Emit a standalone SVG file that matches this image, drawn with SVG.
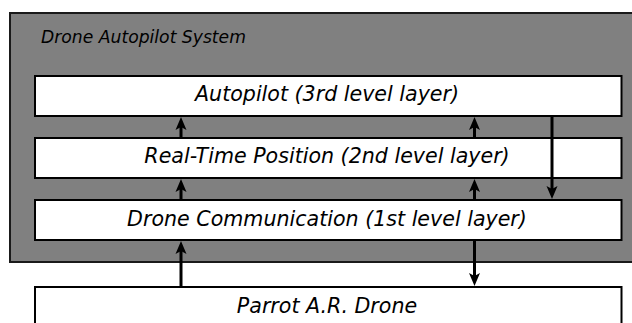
<svg xmlns="http://www.w3.org/2000/svg" width="632" height="323" viewBox="0 0 632 323">
  <style>
    .label { font-family: "DejaVu Sans", "Liberation Sans", sans-serif; font-style: italic; fill: #000; }
    .name { font-size: 20.6px; text-anchor: middle; }
    .layer { fill: #fff; stroke: #000; stroke-width: 2; }
    .link { stroke: #000; stroke-width: 3; fill: none; marker-end: url(#head); }
  </style>
  <defs>
    <marker id="head" markerUnits="userSpaceOnUse" viewBox="0 -6 13 12" refX="3" refY="0" markerWidth="13" markerHeight="12" orient="auto">
      <path d="M0,-5.5 L13,0 L0,5.5 L3,0 Z" fill="#000"/>
    </marker>
  </defs>

  <!-- system container -->
  <g id="system">
    <rect x="10" y="13" width="640" height="249" fill="#808080" stroke="#1a1a1a" stroke-width="2"/>
    <text class="label" x="41" y="42.5" font-size="17.2">Drone Autopilot System</text>
  </g>

  <g id="autopilot">
    <rect class="layer" x="35" y="76" width="586.5" height="40"/>
    <text class="label name" x="327" y="101">Autopilot (3rd level layer)</text>
  </g>

  <g id="position">
    <rect class="layer" x="35" y="138" width="586.5" height="40"/>
    <text class="label name" x="327" y="163">Real-Time Position (2nd level layer)</text>
  </g>

  <g id="communication">
    <rect class="layer" x="35" y="200" width="586.5" height="40"/>
    <text class="label name" x="327" y="226">Drone Communication (1st level layer)</text>
  </g>

  <g id="drone">
    <rect class="layer" x="35" y="287" width="586.5" height="60"/>
    <text class="label name" x="327" y="313">Parrot A.R. Drone</text>
  </g>

  <!-- data flow between layers -->
  <g id="connectors">
    <line class="link" x1="181" y1="137" x2="181" y2="127"/>
    <line class="link" x1="181" y1="199" x2="181" y2="189"/>
    <line class="link" x1="181" y1="286" x2="181" y2="251"/>
    <line class="link" x1="474.5" y1="137" x2="474.5" y2="127"/>
    <line class="link" x1="474.5" y1="199" x2="474.5" y2="189"/>
    <line class="link" x1="474.5" y1="241" x2="474.5" y2="276"/>
    <line class="link" x1="552" y1="117" x2="552" y2="189"/>
  </g>
</svg>
